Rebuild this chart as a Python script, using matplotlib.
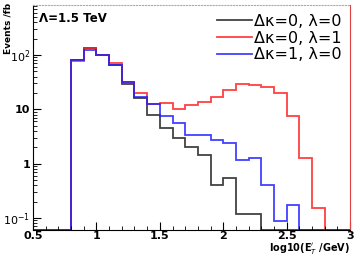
import numpy as np
import matplotlib
matplotlib.use("Agg")
import matplotlib.pyplot as plt
from matplotlib.ticker import LogLocator, FixedLocator, NullFormatter

# bin edges in log10(E/GeV)
edges = [0.5, 0.6, 0.7, 0.8, 0.9, 1.0, 1.1, 1.2, 1.3, 1.4, 1.5, 1.6, 1.7, 1.8,
         1.9, 2.0, 2.1, 2.2, 2.3, 2.4, 2.5, 2.6, 2.7, 2.8, 2.9, 3.0]

sm_vals = [0, 0, 0, 80, 133, 100, 66, 29, 16, 7.9, 4.5, 2.95, 2.05, 1.46,
           0.41, 0.55, 0.117, 0.117, 0, 0, 0, 0, 0, 0, 0]
lam_vals = [0, 0, 0, 77, 136, 100, 70, 32.5, 19.8, 12.4, 13.3, 10, 12.1, 13.7,
            17.2, 22.8, 29.4, 28.2, 26.2, 19.8, 7.4, 1.29, 0.15, 0, 0]
kap_vals = [0, 0, 0, 80, 124, 100, 66, 32.5, 16.7, 12.4, 7.4, 5.6, 3.4, 3.3,
            2.75, 2.4, 1.18, 1.29, 0.41, 0.087, 0.17, 0, 0, 0, 0]

labels = ["\u0394\u03ba=0, \u03bb=0",
          "\u0394\u03ba=0, \u03bb=1",
          "\u0394\u03ba=1, \u03bb=0"]
colors = ["#222222", "#ff2020", "#2020ff"]

xticks = [0.5, 1.0, 1.5, 2.0, 2.5, 3.0]
xticklabels = ["0.5", "1", "1.5", "2", "2.5", "3"]

ymin, ymax = 0.06, 830

fig = plt.figure(figsize=(3.55, 2.56), dpi=100)
ax = fig.add_axes([0.093, 0.102, 0.893, 0.878])

for vals, col, lab in zip([sm_vals, lam_vals, kap_vals], colors, labels):
    v = np.array(vals, dtype=float)
    v[v <= 0] = ymin
    ax.stairs(v, edges, baseline=None, color=col, lw=1.3, alpha=0.85, label=lab)

ax.set_yscale("log")
ax.set_xlim(0.5, 3.0)
ax.set_ylim(ymin, ymax)

ax.yaxis.set_major_locator(FixedLocator([0.1, 1, 10, 100]))
ax.set_yticklabels([r"$10^{-1}$", "1", "10", r"$10^{2}$"])
ax.yaxis.set_minor_locator(LogLocator(base=10, subs=np.arange(2, 10)))
ax.yaxis.set_minor_formatter(NullFormatter())
ax.xaxis.set_major_locator(FixedLocator(xticks))
ax.xaxis.set_minor_locator(FixedLocator(np.round(np.arange(0.5, 3.01, 0.1), 2)))
ax.set_xticklabels(xticklabels)

ax.tick_params(which="both", direction="in", top=False, right=False, labelsize=8)
ax.tick_params(axis="x", pad=0.5)
ax.tick_params(axis="y", pad=2)
ax.tick_params(which="major", length=6, width=0.8)
ax.tick_params(which="minor", length=3, width=0.6)
for t in ax.get_xticklabels() + ax.get_yticklabels():
    t.set_fontweight("bold")

ax.spines["right"].set_color("#e04040")
ax.spines["top"].set_color("#aaaaaa")
ax.spines["top"].set_linestyle(":")

fig.text(0.022, 0.99, "Events /fb", rotation=90, ha="center", va="top",
         fontsize=6.5, fontweight="bold")
fig.text(0.985, 0.0, r"log10(E$^{\prime}_{T}$ /GeV)", ha="right", va="bottom",
         fontsize=7, fontweight="bold")
ax.text(0.02, 0.94, "\u039b=1.5 TeV", transform=ax.transAxes,
        ha="left", va="center", fontsize=8.5, fontweight="bold")

ax.legend(loc="upper right", frameon=False, fontsize=11.5, handlelength=2.2,
          handletextpad=0.1, labelspacing=0.1, borderaxespad=0.15)

fig.savefig("out.png", dpi=100)
